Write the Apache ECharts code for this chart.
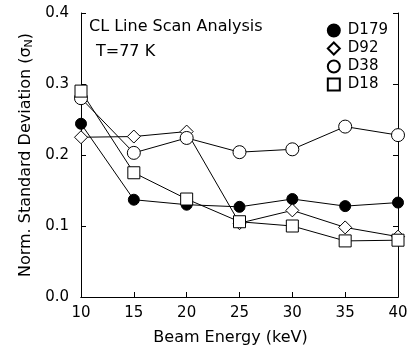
<!DOCTYPE html>
<html>
<head>
    <meta charset="UTF-8">
    <style type="text/css">
        html, body { margin: 0; padding: 0; background: #fff; }
        #chart { width: 413px; height: 351px; }
    </style>
</head>
<body>
    <div id="chart"></div>
    <script src="https://cdnjs.cloudflare.com/ajax/libs/echarts/6.0.0/echarts.min.js"></script>
    <script type="text/javascript">
        'use strict';
        var energies = [10, 15, 20, 25, 30, 35, 40];
        var d179 = [0.244, 0.137, 0.130, 0.127, 0.138, 0.128, 0.133];
        var d92 = [0.225, 0.226, 0.233, 0.104, 0.122, 0.098, 0.085];
        var d38 = [0.280, 0.203, 0.224, 0.204, 0.208, 0.240, 0.228];
        var d18 = [0.290, 0.175, 0.138, 0.106, 0.100, 0.079, 0.080];
        var seriesNames = ['D179', 'D92', 'D38', 'D18'];

        var font = 'DejaVu Sans, sans-serif';

        function pairs(vals) {
            return energies.map(function (e, i) { return [e, vals[i]]; });
        }

        function makeSeries(name, vals, symbol, size, filled) {
            return {
                name: name,
                type: 'line',
                data: pairs(vals),
                symbol: symbol,
                symbolSize: size,
                showAllSymbol: true,
                lineStyle: { color: '#000', width: 1 },
                itemStyle: { color: filled ? '#000' : '#fff', borderColor: '#000', borderWidth: 1 },
                emphasis: { disabled: true },
                animation: false
            };
        }

        var chart = echarts.init(document.getElementById('chart'));
        chart.setOption({
            backgroundColor: '#fff',
            textStyle: { fontFamily: font, color: '#000' },
            grid: { left: 81, right: 15, top: 13, bottom: 54 },
            legend: {
                orient: 'vertical',
                right: 20,
                top: 18,
                itemGap: 3,
                itemWidth: 12,
                itemHeight: 12,
                textStyle: { fontFamily: font, fontSize: 15, color: '#000', padding: [0, 0, 0, 3] },
                data: [
                    { name: 'D179', icon: 'circle' },
                    { name: 'D92', icon: 'diamond' },
                    { name: 'D38', icon: 'circle' },
                    { name: 'D18', icon: 'rect' }
                ]
            },
            graphic: [
                { type: 'text', left: 89, top: 19, style: { text: 'CL Line Scan Analysis', font: '16px ' + font, fill: '#000' } },
                { type: 'text', left: 96, top: 44, style: { text: 'T=77 K', font: '16px ' + font, fill: '#000' } }
            ],
            xAxis: [{
                type: 'value', min: 10, max: 40, interval: 5,
                name: 'Beam Energy (keV)', nameLocation: 'middle', nameGap: 33,
                nameTextStyle: { fontSize: 16, color: '#000', padding: [0, 18, 0, 0] },
                axisLine: { lineStyle: { color: '#000', width: 1 } },
                axisTick: { inside: true, length: 5, lineStyle: { color: '#000' } },
                axisLabel: { fontSize: 15, color: '#000', margin: 9 },
                splitLine: { show: false }
            }, {
                type: 'value', min: 10, max: 40, interval: 5, position: 'top',
                axisLine: { lineStyle: { color: '#000', width: 1 } },
                axisTick: { show: false },
                axisLabel: { show: false },
                splitLine: { show: false }
            }],
            yAxis: [{
                type: 'value', min: 0, max: 0.4, interval: 0.1,
                name: '{t|Norm. Standard Deviation (σ}{s|N}{t|)}',
                nameLocation: 'middle', nameRotate: 90, nameGap: 46,
                nameTextStyle: {
                    rich: {
                        t: { fontSize: 16, fontFamily: font, color: '#000' },
                        s: { fontSize: 11, fontFamily: font, color: '#000', verticalAlign: 'bottom', padding: [6, 0, 0, 0] }
                    }
                },
                axisLine: { lineStyle: { color: '#000', width: 1 } },
                axisTick: { inside: true, length: 5, lineStyle: { color: '#000' } },
                axisLabel: { fontSize: 15, color: '#000', margin: 12, formatter: function (v) { return v.toFixed(1); } },
                splitLine: { show: false }
            }, {
                type: 'value', min: 0, max: 0.4, interval: 0.1, position: 'right',
                axisLine: { lineStyle: { color: '#000', width: 1 } },
                axisTick: { inside: true, length: 5, lineStyle: { color: '#000' } },
                axisLabel: { show: false },
                splitLine: { show: false }
            }],
            series: [
                makeSeries(seriesNames[0], d179, 'circle', 11, true),
                makeSeries(seriesNames[1], d92, 'diamond', 13, false),
                makeSeries(seriesNames[2], d38, 'circle', 13, false),
                makeSeries(seriesNames[3], d18, 'rect', 12, false)
            ]
        });
    </script>
</body>
</html>
